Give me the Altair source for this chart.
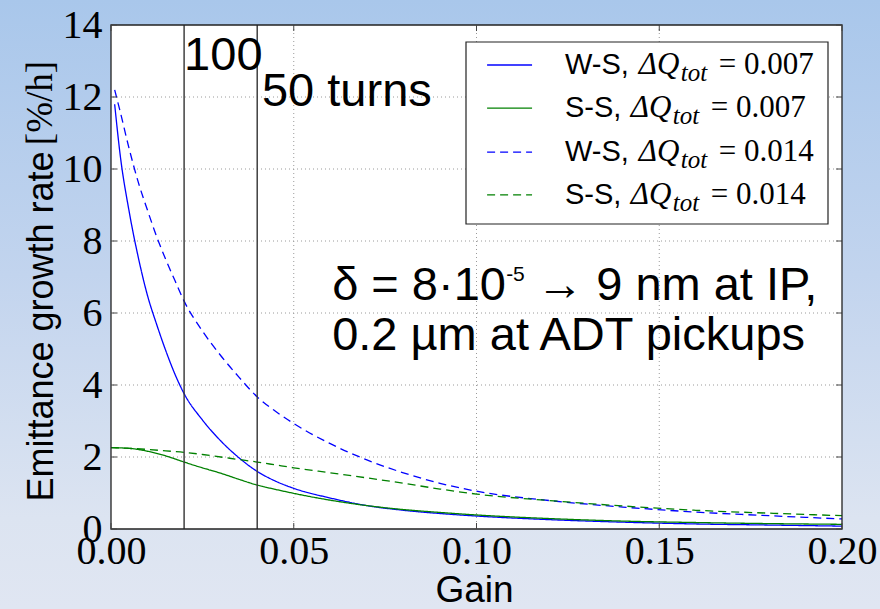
import altair as alt
import pandas as pd

# ---------------- data ----------------
gain_ws = [0.001, 0.0025, 0.005, 0.0075, 0.01, 0.0125, 0.015, 0.0175, 0.02, 0.025,
           0.03, 0.035, 0.04, 0.045, 0.05, 0.06, 0.07, 0.08, 0.09, 0.10,
           0.12, 0.14, 0.16, 0.18, 0.20]
ws_007 = [11.8, 10.4, 8.8, 7.53, 6.48, 5.68, 4.95, 4.3, 3.76, 3.03,
          2.45, 1.98, 1.6, 1.33, 1.13, 0.86, 0.65, 0.52, 0.43, 0.36,
          0.26, 0.19, 0.14, 0.11, 0.08]
ws_014 = [12.2, 11.6, 10.55, 9.62, 8.85, 8.12, 7.48, 6.9, 6.33, 5.5,
          4.82, 4.22, 3.67, 3.27, 2.93, 2.37, 1.92, 1.56, 1.27, 1.05,
          0.79, 0.61, 0.47, 0.37, 0.28]
gain_ss = [0, 0.005, 0.01, 0.015, 0.02, 0.025, 0.03, 0.035, 0.04, 0.045,
           0.05, 0.06, 0.07, 0.08, 0.09, 0.10, 0.12, 0.14, 0.16, 0.18, 0.20]
ss_007 = [2.26, 2.24, 2.16, 2.03, 1.86, 1.7, 1.55, 1.38, 1.22, 1.1,
          0.99, 0.8, 0.65, 0.54, 0.46, 0.39, 0.29, 0.22, 0.18, 0.15, 0.13]
ss_014 = [2.26, 2.24, 2.21, 2.17, 2.13, 2.07, 2.0, 1.93, 1.86, 1.78,
          1.70, 1.56, 1.42, 1.27, 1.11, 0.97, 0.79, 0.64, 0.52, 0.44, 0.37]

series_ids = ["ws007", "ss007", "ws014", "ss014"]
series_prefix = ["W-S,", "S-S,", "W-S,", "S-S,"]
series_dq = ["= 0.007", "= 0.007", "= 0.014", "= 0.014"]
series_colors = ["#0000ff", "#008000", "#0000ff", "#008000"]
series_dashes = [[1, 0], [1, 0], [8, 5], [8, 5]]

x_ticks = [0.0, 0.05, 0.10, 0.15, 0.20]
y_ticks = [0, 2, 4, 6, 8, 10, 12, 14]
turn_gains = [0.02, 0.04]

# annotations (data coordinates)
turn_labels = ["100", "50 turns"]
turn_label_x = [0.02, 0.0413]
turn_label_y = [12.75, 11.74]
note_lines = ["δ = 8·10", "0.2 µm at ADT pickups"]
note_x = 0.0605
note_y = [6.36, 4.97]

# legend placement (data coordinates)
leg_row_y = [12.89, 11.69, 10.47, 9.28]
leg_sym_x = [0.1029, 0.1152]
leg_text_x = 0.1242
leg_math_x = [0.1444, 0.1422, 0.1444, 0.1422]

W, H = 731, 504

# ---------------- tables ----------------
rows = []
for g, v in zip(gain_ws, ws_007):
    rows.append({"gain": g, "value": v, "series": series_ids[0]})
for g, v in zip(gain_ss, ss_007):
    rows.append({"gain": g, "value": v, "series": series_ids[1]})
for g, v in zip(gain_ws, ws_014):
    rows.append({"gain": g, "value": v, "series": series_ids[2]})
for g, v in zip(gain_ss, ss_014):
    rows.append({"gain": g, "value": v, "series": series_ids[3]})
df = pd.DataFrame(rows)

leg_df = pd.DataFrame({
    "series": series_ids, "value": leg_row_y,
    "gain": [leg_sym_x[0]] * 4, "gain2": [leg_sym_x[1]] * 4,
    "tx": [leg_text_x] * 4, "mx": leg_math_x,
    "prefix": series_prefix, "dq": series_dq,
    "dQ": ["ΔQ"] * 4, "sub": ["tot"] * 4,
})

one = pd.DataFrame({"a": [0]})
xt = pd.DataFrame({"gain": x_ticks})
yt = pd.DataFrame({"value": y_ticks})
xg = pd.DataFrame({"gain": x_ticks[1:-1]})
yg = pd.DataFrame({"value": y_ticks[1:-1]})
vt = pd.DataFrame({"gain": turn_gains})
tl = pd.DataFrame({"gain": turn_label_x, "value": turn_label_y, "label": turn_labels})

xs = alt.Scale(domain=[0, 0.2], nice=False, zero=False)
ys = alt.Scale(domain=[0, 14], nice=False, zero=False)

x_axis = alt.Axis(values=x_ticks, format=".2f", labelFont="Liberation Serif",
                  labelFontSize=40, labelColor="black", ticks=False, domain=False,
                  grid=False, labelPadding=2, labelFlush=False, labelOverlap=False,
                  title="Gain", titleFont="Liberation Sans", titleFontSize=37,
                  titleFontWeight="normal", titleColor="black",
                  titleX=363, titleY=80, titleBaseline="bottom", zindex=1)
y_axis = alt.Axis(values=y_ticks, format="d", labelFont="Liberation Serif",
                  labelFontSize=40, labelColor="black", ticks=False, domain=False,
                  grid=False, labelPadding=9, labelFlush=False, labelOverlap=False,
                  title="Emittance growth rate", titleFont="Liberation Sans",
                  titleFontSize=36, titleFontWeight="normal", titleColor="black",
                  titleAngle=270, titleX=-59, titleY=301, titleAlign="center",
                  titleBaseline="alphabetic", zindex=1)


def X(field="gain"):
    return alt.X(f"{field}:Q", scale=xs, axis=x_axis)


def Y(field="value"):
    return alt.Y(f"{field}:Q", scale=ys, axis=y_axis)


color_enc = alt.Color("series:N", scale=alt.Scale(domain=series_ids, range=series_colors), legend=None)
dash_enc = alt.StrokeDash("series:N", scale=alt.Scale(domain=series_ids, range=series_dashes), legend=None)

# ---------------- background ----------------
bg = alt.Chart(one).mark_rect(
    fill=alt.Gradient(
        gradient="linear",
        stops=[alt.GradientStop(color="#a9c7eb", offset=0),
               alt.GradientStop(color="#c2d4ee", offset=0.45),
               alt.GradientStop(color="#dce4f1", offset=0.85),
               alt.GradientStop(color="#e0e6f2", offset=1)],
        x1=0, x2=0, y1=0, y2=1),
).encode(x=alt.value(-111), x2=alt.value(880 - 111), y=alt.value(-25), y2=alt.value(609 - 25))

plot_bg = alt.Chart(one).mark_rect(fill="white").encode(
    x=alt.value(0), x2=alt.value(W), y=alt.value(0), y2=alt.value(H))

grid_style = dict(color="#9a9a9a", strokeDash=[1, 3], strokeWidth=1)
xgrid = alt.Chart(xg).mark_rule(**grid_style).encode(x=X())
ygrid = alt.Chart(yg).mark_rule(**grid_style).encode(y=Y())

legend_box = alt.Chart(one).mark_rect(fill="white", stroke="#222222", strokeWidth=1.2).encode(
    x=alt.value(355), x2=alt.value(717), y=alt.value(17), y2=alt.value(199))

# ---------------- curves ----------------
lines = alt.Chart(df).mark_line(interpolate="monotone", strokeWidth=1.3).encode(
    x=X(), y=Y(), color=color_enc, strokeDash=dash_enc, order=alt.Order("gain:Q"),
)

vlines = alt.Chart(vt).mark_rule(color="#333333", strokeWidth=1.4).encode(x=X())

frame = alt.Chart(one).mark_rect(fillOpacity=0, stroke="#222222", strokeWidth=1.3).encode(
    x=alt.value(0), x2=alt.value(W), y=alt.value(0), y2=alt.value(H))

tick_style = dict(color="#444444", strokeWidth=1)
tb = alt.Chart(xt).mark_rule(**tick_style).encode(x=X(), y=alt.value(H), y2=alt.value(H - 6))
tt = alt.Chart(xt).mark_rule(**tick_style).encode(x=X(), y=alt.value(0), y2=alt.value(6))
tl_ = alt.Chart(yt).mark_rule(**tick_style).encode(y=Y(), x=alt.value(0), x2=alt.value(6))
tr = alt.Chart(yt).mark_rule(**tick_style).encode(y=Y(), x=alt.value(W), x2=alt.value(W - 6))

# unit part of the y title, in serif like the reference
unit_title = alt.Chart(pd.DataFrame({"t": ["[%/h]"]})).mark_text(
    font="Liberation Serif", fontSize=37, angle=270, align="center",
    baseline="alphabetic", color="black").encode(
    x=alt.value(-59), y=alt.value(78), text="t:N")

# ---------------- legend (manual) ----------------
leg_sym = alt.Chart(leg_df).mark_rule(strokeWidth=1.4).encode(
    x=X(), x2="gain2:Q", y=Y(), color=color_enc, strokeDash=dash_enc)
leg_pre = alt.Chart(leg_df).mark_text(
    font="Liberation Sans", fontSize=29, align="left", baseline="middle", color="black").encode(
    x=X("tx"), y=Y(), text="prefix:N")
leg_dq = alt.Chart(leg_df).mark_text(
    font="Liberation Serif", fontStyle="italic", fontSize=31, align="left",
    baseline="middle", color="black").encode(x=X("mx"), y=Y(), text="dQ:N")
leg_sub = alt.Chart(leg_df).mark_text(
    font="Liberation Serif", fontStyle="italic", fontSize=25, align="left",
    baseline="middle", color="black", dx=42, dy=8).encode(x=X("mx"), y=Y(), text="sub:N")
leg_val = alt.Chart(leg_df).mark_text(
    font="Liberation Serif", fontSize=31, align="left", baseline="middle",
    color="black", dx=80).encode(x=X("mx"), y=Y(), text="dq:N")

# ---------------- annotations ----------------
turn_text = alt.Chart(tl).mark_text(
    font="Liberation Sans", fontSize=47, align="left", baseline="alphabetic",
    color="black").encode(x=X(), y=Y(), text="label:N")

note_df = pd.DataFrame({"gain": [note_x, note_x], "value": note_y, "label": note_lines})
note_text = alt.Chart(note_df).mark_text(
    font="Liberation Sans", fontSize=47, align="left", baseline="alphabetic",
    color="black").encode(x=X(), y=Y(), text="label:N")

sup_df = pd.DataFrame({"gain": [note_x], "value": [note_y[0]], "label": ["-5"]})
sup_text = alt.Chart(sup_df).mark_text(
    font="Liberation Sans", fontSize=21, align="left", baseline="alphabetic",
    color="black", dx=174, dy=-19).encode(x=X(), y=Y(), text="label:N")

rest_df = pd.DataFrame({"gain": [note_x], "value": [note_y[0]], "label": ["→ 9 nm at IP,"]})
rest_text = alt.Chart(rest_df).mark_text(
    font="Liberation Sans", fontSize=47, align="left", baseline="alphabetic",
    color="black", dx=204).encode(x=X(), y=Y(), text="label:N")

chart = alt.layer(
    bg, plot_bg, xgrid, ygrid, legend_box, lines, vlines, frame, tb, tt, tl_, tr,
    unit_title, leg_sym, leg_pre, leg_dq, leg_sub, leg_val,
    turn_text, note_text, sup_text, rest_text
).properties(
    width=W, height=H,
    autosize=alt.AutoSizeParams(type="none"),
    padding={"left": 111, "top": 25, "right": 38, "bottom": 80},
    background="#dfe6f2",
).configure_view(stroke=None)

chart.save("out.html", embed_options={"renderer": "svg", "actions": False})
